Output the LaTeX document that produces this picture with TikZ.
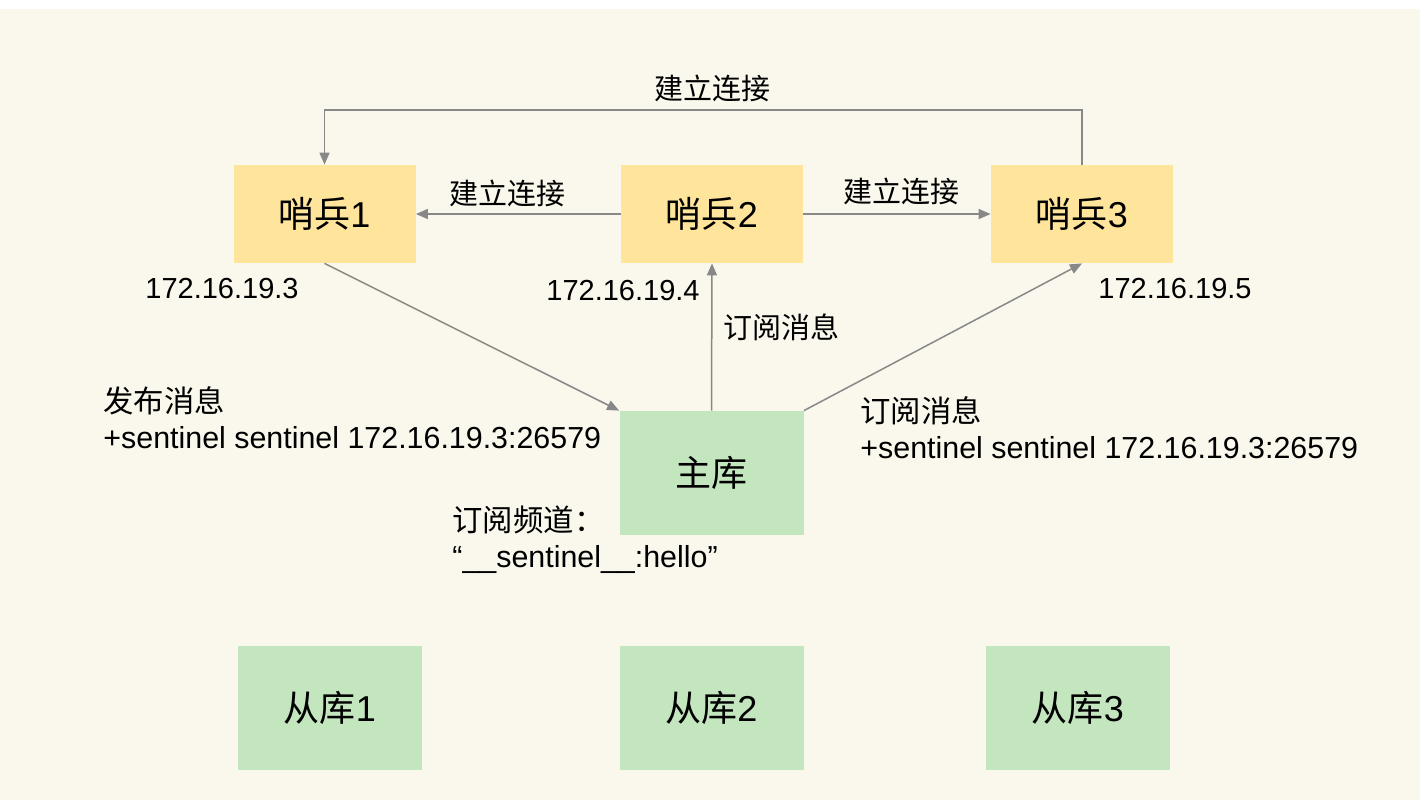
\documentclass[tikz,border=0pt]{standalone}
\usepackage{fontspec}
\setmainfont{Liberation Sans}
\newfontfamily\cjk{Noto Sans CJK SC}
\newcommand{\zh}[1]{{\cjk #1}}
\usepackage{tikz}
\usetikzlibrary{arrows.meta, positioning, calc}
\definecolor{cream}{HTML}{FAF7EC}
\definecolor{sentinelfill}{HTML}{FFE59B}
\definecolor{dbfill}{HTML}{C3E6BF}
\definecolor{linkgray}{HTML}{888888}

\begin{document}
\begin{tikzpicture}[x=0.5pt, y=-0.5pt,
        sentinel/.style={fill=sentinelfill, minimum width=91pt, minimum height=49pt, inner sep=0pt, font=\fontsize{18}{20}\selectfont},
        db/.style={fill=dbfill, minimum width=92pt, minimum height=62pt, inner sep=0pt, font=\fontsize{18}{20}\selectfont},
        link/.style={draw=linkgray, line width=0.75pt, -{Triangle[length=6pt, width=5pt]}},
        lbl/.style={inner sep=0pt, font=\fontsize{14.5}{18}\selectfont},
        block/.style={inner sep=0pt, align=left, anchor=west, font=\fontsize{15.2}{18}\selectfont}]
            % canvas
            \fill[white] (0,0) rectangle (1420,800);
            \fill[cream] (0,9) rectangle (1420,800);
            \useasboundingbox (0,0) rectangle (1420,800);

            % sentinels and databases
            \node[sentinel] (s1) at (324.5,214) {\zh{哨兵}1};
            \node[sentinel] (s2) at (712,214) {\zh{哨兵}2};
            \node[sentinel] (s3) at (1082,214) {\zh{哨兵}3};
            \node[db] (master) at (711.5,473) {\zh{主库}};
            \node[db] (r1) at (330,707.5) {\zh{从库}1};
            \node[db] (r2) at (711.5,707.5) {\zh{从库}2};
            \node[db] (r3) at (1078,707.5) {\zh{从库}3};

            % connections
            \coordinate (top) at (712,110);
            \draw[link] (s3.north) |- (top) -| (s1.north);
            \draw[link] (s2) -- (s1);
            \draw[link] (s2) -- (s3);
            \draw[link] (s1.south) -- (master.north west);
            \draw[link] (master.north) -- (s2.south);
            \draw[link] (master.north east) -- (s3.south);

            % labels
            \node[lbl] (ltop) at (712,88) {\zh{建立连接}};
            \node[lbl] (l12) at (507,193) {\zh{建立连接}};
            \node[lbl] (l23) at (901,191) {\zh{建立连接}};
            \node[lbl] (lsub) at (781,327) {\zh{订阅消息}};
            \node[lbl] (ip1) at (222,289) {172.16.19.3};
            \node[lbl] (ip2) at (623,291) {172.16.19.4};
            \node[lbl] (ip3) at (1175,289) {172.16.19.5};
            \node[block] (pub) at (103,418) {\zh{发布消息}\\+sentinel sentinel 172.16.19.3:26579};
            \node[block] (sub) at (860,428) {\zh{订阅消息}\\+sentinel sentinel 172.16.19.3:26579};
            \node[block] (chan) at (452,540) {\zh{订阅频道：}\\“\_\_sentinel\_\_:hello”};
        \end{tikzpicture}
\end{document}
